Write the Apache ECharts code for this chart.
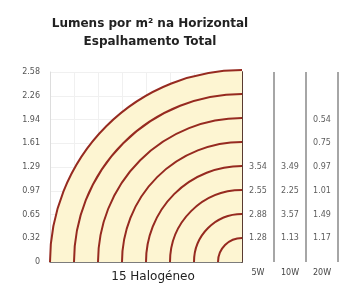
<!DOCTYPE html>
<html>
<head>
<meta charset="utf-8">
<script src="https://cdn.jsdelivr.net/npm/echarts@6/dist/echarts.min.js"></script>
<style>
  html, body { margin: 0; padding: 0; background: #fff; }
  #chart { width: 340px; height: 287px; }
</style>
</head>
<body>
<div id="chart"></div>
<script>
// distance labels on the left axis (one per ring)
var distLabels = ['0', '0.32', '0.65', '0.97', '1.29', '1.61', '1.94', '2.26', '2.58'];
// ring radii, in axis units
var radii = [1, 2, 3, 4, 5, 6, 7, 8];
// lamp columns of the table on the right
var lamps = ['5W', '10W', '20W'];
// lux values per ring, from the innermost ring outwards
var lux5W = [1.28, 2.88, 2.55, 3.54];
var lux10W = [1.13, 3.57, 2.25, 3.49];
var lux20W = [1.17, 1.49, 1.01, 0.97, 0.75, 0.54];

var luxTable = [lux5W, lux10W, lux20W];
var tableData = [];
luxTable.forEach(function (col, ci) {
  col.forEach(function (v, ri) {
    tableData.push([ci, radii[ri], v]);
  });
});

var maxR = radii[radii.length - 1];
var chart = echarts.init(document.getElementById('chart'));

// quarter circle centered at bottom-right of the plot
function ringItem(params, api, filled) {
  var c = api.coord([maxR, 0]);
  var r = api.size([api.value(0), 0])[0];
  if (filled) {
    return {
      type: 'sector',
      shape: { cx: c[0], cy: c[1], r0: 0, r: r, startAngle: Math.PI, endAngle: Math.PI * 1.5, clockwise: true },
      style: { fill: '#fdf5d2' }
    };
  }
  return {
    type: 'arc',
    shape: { cx: c[0], cy: c[1], r: r, startAngle: Math.PI, endAngle: Math.PI * 1.5, clockwise: true },
    style: { stroke: '#962a20', lineWidth: 2, fill: null }
  };
}

chart.setOption({
  animation: false,
  title: [
    {
      text: 'Lumens por m² na Horizontal\nEspalhamento Total',
      left: 145, top: 10, textAlign: 'center',
      textStyle: { fontFamily: 'DejaVu Sans', fontSize: 12, fontWeight: 'bold', color: '#222', lineHeight: 18 }
    },
    {
      text: '15 Halogéneo',
      left: 148, top: 266, textAlign: 'center',
      textStyle: { fontFamily: 'DejaVu Sans', fontSize: 12, fontWeight: 'normal', color: '#222' }
    }
  ],
  grid: [
    { left: 50, right: 98, top: 72, bottom: 25 },
    { left: 242, right: 2, top: 72, bottom: 25 }
  ],
  xAxis: [
    {
      gridIndex: 0, type: 'value', min: 0, max: maxR, interval: 1, position: 'top',
      axisLine: { show: true, lineStyle: { color: '#555', width: 1.5 } },
      axisTick: { show: false }, axisLabel: { show: false },
      splitLine: { show: true, lineStyle: { color: '#f0f0f0', width: 1 } }
    },
    {
      gridIndex: 1, type: 'category', data: lamps, position: 'bottom',
      axisLine: { show: false }, axisTick: { show: false },
      axisLabel: { fontFamily: 'DejaVu Sans', fontSize: 8, color: '#444', margin: 7 },
      splitLine: { show: true, lineStyle: { color: '#888', width: 1.5 } }
    }
  ],
  yAxis: [
    {
      gridIndex: 0, type: 'value', min: 0, max: maxR, interval: 1,
      axisLine: { show: true, lineStyle: { color: '#ddd' } },
      axisTick: { show: false },
      axisLabel: {
        fontFamily: 'DejaVu Sans', fontSize: 8, color: '#555', margin: 10,
        formatter: function (v) { return distLabels[v]; }
      },
      splitLine: { show: true, lineStyle: { color: '#f0f0f0', width: 1 } }
    },
    {
      gridIndex: 0, type: 'value', min: 0, max: maxR, position: 'right',
      axisLine: { show: true, lineStyle: { color: '#5a3a30', width: 2 } },
      axisTick: { show: false }, axisLabel: { show: false }, splitLine: { show: false }
    },
    { gridIndex: 1, type: 'value', min: 0, max: maxR, show: false }
  ],
  series: [
    {
      type: 'custom', xAxisIndex: 0, yAxisIndex: 0,
      data: [[maxR]],
      renderItem: function (p, api) { return ringItem(p, api, true); },
      z: 1
    },
    {
      type: 'custom', xAxisIndex: 0, yAxisIndex: 0,
      data: radii.map(function (r) { return [r]; }),
      renderItem: function (p, api) { return ringItem(p, api, false); },
      z: 2
    },
    {
      type: 'scatter', xAxisIndex: 1, yAxisIndex: 2,
      data: tableData,
      symbolSize: 0,
      label: {
        show: true, position: 'inside',
        fontFamily: 'DejaVu Sans', fontSize: 8, color: '#333',
        formatter: function (p) { return p.value[2].toFixed(2); }
      }
    }
  ]
});
</script>
</body>
</html>
